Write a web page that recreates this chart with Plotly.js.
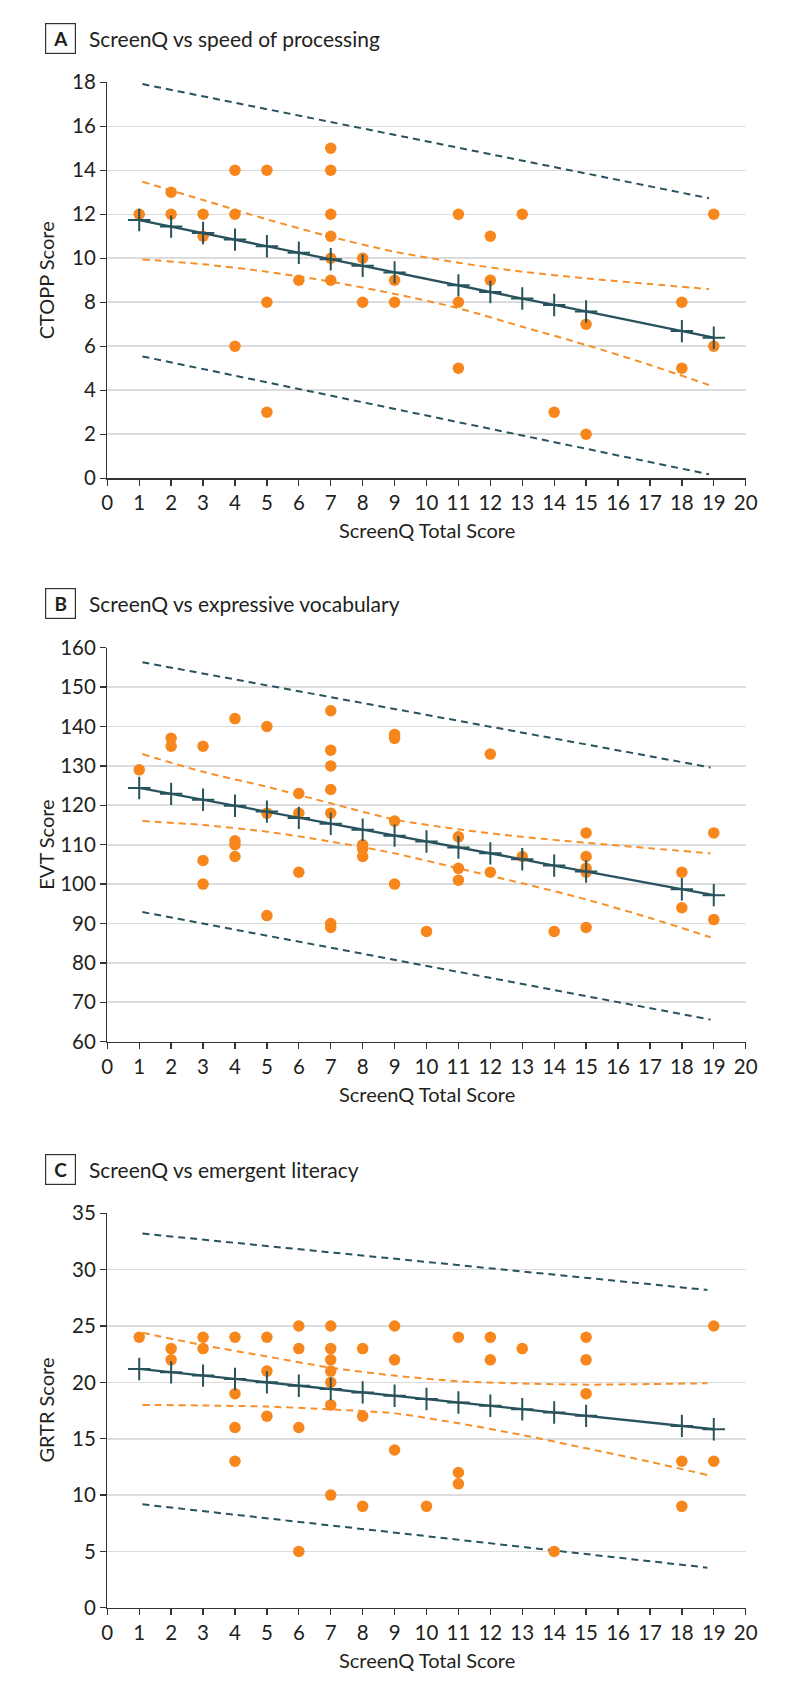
<!DOCTYPE html>
<html>
<head>
<meta charset="utf-8">
<script src="https://cdn.plot.ly/plotly-3.0.1.min.js"></script>
<style>
  html, body { margin: 0; padding: 0; background: #fff; }
  #chart { width: 794px; height: 1689px; }
</style>
</head>
<body>
<div id="chart"></div>
<script>
// Panel A: ScreenQ vs CTOPP
const aScreenQ = [1, 2, 2, 3, 3, 4, 4, 4, 5, 5, 5, 6, 7, 7, 7, 7, 7, 7, 8, 8, 9, 9, 11, 11, 11, 12, 12, 13, 14, 15, 15, 18, 18, 19, 19];
const aCtopp = [12, 13, 12, 12, 11, 14, 12, 6, 14, 8, 3, 9, 15, 14, 12, 11, 10, 9, 10, 8, 9, 8, 12, 8, 5, 11, 9, 12, 3, 7, 2, 8, 5, 12, 6];
const aFitX = [1, 2, 3, 4, 5, 6, 7, 8, 9, 11, 12, 13, 14, 15, 18, 19];
const aFitY = [11.74, 11.44, 11.15, 10.85, 10.55, 10.25, 9.96, 9.66, 9.36, 8.77, 8.47, 8.17, 7.88, 7.58, 6.69, 6.39];
const aBandX = [1.1, 3, 5, 7, 9, 11, 13, 15, 17, 18.85];
const aCiUpper = [13.48, 12.65, 11.77, 10.98, 10.3, 9.8, 9.39, 9.09, 8.83, 8.6];
const aCiLower = [9.95, 9.73, 9.39, 8.94, 8.38, 7.73, 6.89, 6.06, 5.15, 4.24];
const aPredX = [1.1, 18.85];
const aPredUpper = [17.92, 12.73];
const aPredLower = [5.54, 0.18];

// Panel B: ScreenQ vs EVT
const bScreenQ = [1, 2, 2, 3, 3, 3, 4, 4, 4, 4, 5, 5, 5, 6, 6, 6, 7, 7, 7, 7, 7, 7, 7, 8, 8, 8, 9, 9, 9, 9, 10, 11, 11, 11, 12, 12, 13, 14, 15, 15, 15, 15, 15, 18, 18, 19, 19];
const bEvt = [129, 137, 135, 135, 106, 100, 142, 111, 110, 107, 140, 118, 92, 123, 118, 103, 144, 134, 130, 124, 118, 90, 89, 110, 109, 107, 138, 137, 116, 100, 88, 112, 104, 101, 133, 103, 107, 88, 113, 107, 104, 103, 89, 103, 94, 113, 91];
const bFitX = [1, 2, 3, 4, 5, 6, 7, 8, 9, 10, 11, 12, 13, 14, 15, 18, 19];
const bFitY = [124.4, 122.9, 121.4, 119.9, 118.4, 116.8, 115.3, 113.8, 112.3, 110.8, 109.3, 107.8, 106.3, 104.7, 103.2, 98.7, 97.2];
const bBandX = [1.1, 3, 5, 7, 9, 11, 13, 15, 17, 18.9];
const bCiUpper = [133.0, 128.5, 124.7, 120.5, 116.4, 113.9, 112.0, 110.5, 109.1, 107.8];
const bCiLower = [116.0, 115.0, 113.3, 110.8, 107.8, 104.0, 100.2, 96.1, 91.4, 86.5];
const bPredX = [1.1, 18.9];
const bPredUpper = [156.3, 129.6];
const bPredLower = [92.9, 65.6];

// Panel C: ScreenQ vs GRTR
const cScreenQ = [1, 2, 2, 3, 3, 4, 4, 4, 4, 5, 5, 5, 6, 6, 6, 6, 7, 7, 7, 7, 7, 7, 7, 8, 8, 8, 9, 9, 9, 10, 11, 11, 11, 12, 12, 13, 14, 15, 15, 15, 18, 18, 19, 19];
const cGrtr = [24, 23, 22, 24, 23, 24, 19, 16, 13, 24, 21, 17, 25, 23, 16, 5, 25, 23, 22, 21, 20, 18, 10, 23, 17, 9, 25, 22, 14, 9, 24, 12, 11, 24, 22, 23, 5, 24, 22, 19, 13, 9, 25, 13];
const cFitX = [1, 2, 3, 4, 5, 6, 7, 8, 9, 10, 11, 12, 13, 14, 15, 18, 19];
const cFitY = [21.19, 20.89, 20.6, 20.3, 20.0, 19.7, 19.41, 19.11, 18.81, 18.52, 18.22, 17.92, 17.62, 17.33, 17.03, 16.14, 15.84];
const cBandX = [1.1, 3, 5, 7, 9, 11, 13, 15, 17, 18.8];
const cCiUpper = [24.4, 23.3, 22.3, 21.3, 20.6, 20.1, 19.9, 19.8, 19.85, 19.92];
const cCiLower = [18.0, 17.95, 17.85, 17.6, 17.25, 16.37, 15.33, 14.15, 12.95, 11.78];
const cPredX = [1.1, 18.8];
const cPredUpper = [33.2, 28.2];
const cPredLower = [9.18, 3.56];

const W = 794;
const H = 1689;
const FONT = 'Lato, "Open Sans", sans-serif';
const ORANGE = '#f7861c';
const ORANGE_LINE = '#f5902a';
const TEAL = '#28535d';
const INK = '#231f20';

// pixel -> paper helpers (margins are zero)
const px = (x) => x / W;
const py = (y) => 1 - y / H;

const panels = [
  {
    letter: 'A', title: 'ScreenQ vs speed of processing', yTitle: 'CTOPP Score',
    x: aScreenQ, y: aCtopp, fitX: aFitX, fitY: aFitY,
    bandX: aBandX, ciUp: aCiUpper, ciLo: aCiLower,
    predX: aPredX, predUp: aPredUpper, predLo: aPredLower,
    range: [0, 18], dtick: 2, top: 82.3, bottom: 478.3
  },
  {
    letter: 'B', title: 'ScreenQ vs expressive vocabulary', yTitle: 'EVT Score',
    x: bScreenQ, y: bEvt, fitX: bFitX, fitY: bFitY,
    bandX: bBandX, ciUp: bCiUpper, ciLo: bCiLower,
    predX: bPredX, predUp: bPredUpper, predLo: bPredLower,
    range: [60, 160], dtick: 10, top: 647.7, bottom: 1041.7
  },
  {
    letter: 'C', title: 'ScreenQ vs emergent literacy', yTitle: 'GRTR Score',
    x: cScreenQ, y: cGrtr, fitX: cFitX, fitY: cFitY,
    bandX: cBandX, ciUp: cCiUpper, ciLo: cCiLower,
    predX: cPredX, predUp: cPredUpper, predLo: cPredLower,
    range: [0, 35], dtick: 5, top: 1213.3, bottom: 1607.8
  }
];

const traces = [];
const layout = {
  width: W,
  height: H,
  margin: { l: 0, r: 0, t: 0, b: 0 },
  paper_bgcolor: '#ffffff',
  plot_bgcolor: '#ffffff',
  showlegend: false,
  font: { family: FONT, color: INK },
  annotations: []
};

panels.forEach((p, i) => {
  const n = i === 0 ? '' : String(i + 1);
  const xa = 'x' + n;
  const ya = 'y' + n;

  const dashed = (xs, ys, color, smooth) => ({
    x: xs, y: ys, xaxis: xa, yaxis: ya,
    type: 'scatter', mode: 'lines', hoverinfo: 'skip',
    line: { color: color, width: 2, dash: '7px,5px', shape: smooth ? 'spline' : 'linear', smoothing: 0.8 }
  });

  traces.push(dashed(p.predX, p.predUp, TEAL, false));
  traces.push(dashed(p.predX, p.predLo, TEAL, false));
  traces.push(dashed(p.bandX, p.ciUp, ORANGE_LINE, true));
  traces.push(dashed(p.bandX, p.ciLo, ORANGE_LINE, true));

  traces.push({
    x: p.x, y: p.y, xaxis: xa, yaxis: ya,
    type: 'scatter', mode: 'markers',
    marker: { color: ORANGE, size: 11.5, line: { width: 0 } }
  });

  traces.push({
    x: p.fitX, y: p.fitY, xaxis: xa, yaxis: ya,
    type: 'scatter', mode: 'lines+markers',
    line: { color: TEAL, width: 2.3 },
    marker: { symbol: 'cross-thin', size: 16, line: { color: TEAL, width: 2 } }
  });

  layout['xaxis' + n] = {
    anchor: ya,
    domain: [px(107.3), px(745.7)],
    range: [0, 20], tick0: 0, dtick: 1,
    ticks: 'outside', ticklen: 6, tickwidth: 1.3, tickcolor: '#333',
    showline: true, linecolor: '#333', linewidth: 1.3,
    showgrid: false, zeroline: false, fixedrange: true,
    tickfont: { family: FONT, size: 20.5, color: INK }
  };
  layout['yaxis' + n] = {
    anchor: xa,
    domain: [py(p.bottom), py(p.top)],
    range: p.range, tick0: p.range[0], dtick: p.dtick,
    ticks: 'outside', ticklen: 6, tickwidth: 1.3, tickcolor: '#333',
    showline: true, linecolor: '#333', linewidth: 1.3,
    showgrid: true, gridcolor: '#dcdcdc', gridwidth: 1.6,
    zeroline: false, fixedrange: true,
    tickfont: { family: FONT, size: 20.5, color: INK }
  };

  const titleY = p.top - 44;
  layout.annotations.push(
    {
      xref: 'paper', yref: 'paper', x: px(60.3), y: py(titleY),
      xanchor: 'center', yanchor: 'middle', showarrow: false,
      text: '<b>' + p.letter + '</b>', width: 29, height: 29,
      bordercolor: '#333', borderwidth: 1.2, borderpad: 0,
      font: { family: FONT, size: 19, color: INK }
    },
    {
      xref: 'paper', yref: 'paper', x: px(87), y: py(titleY),
      xanchor: 'left', yanchor: 'middle', showarrow: false,
      text: p.title,
      font: { family: FONT, size: 21, color: INK }
    },
    {
      xref: 'paper', yref: 'paper', x: px(46), y: py((p.top + p.bottom) / 2),
      xanchor: 'center', yanchor: 'middle', showarrow: false,
      text: p.yTitle, textangle: -90,
      font: { family: FONT, size: 20, color: INK }
    },
    {
      xref: 'paper', yref: 'paper', x: px(426.5), y: py(p.bottom + 52),
      xanchor: 'center', yanchor: 'middle', showarrow: false,
      text: 'ScreenQ Total Score',
      font: { family: FONT, size: 20, color: INK }
    }
  );
});

Plotly.newPlot('chart', traces, layout, { displayModeBar: false, staticPlot: true });
</script>
</body>
</html>
